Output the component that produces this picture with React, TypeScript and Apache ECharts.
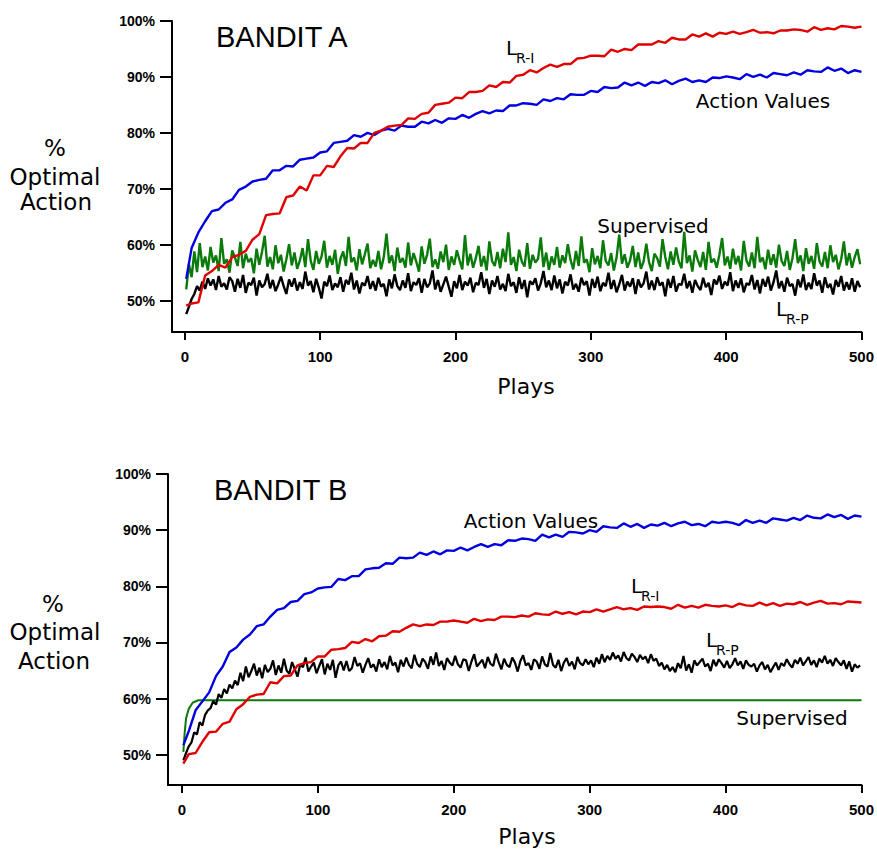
import React, { useEffect, useRef } from "react";
import * as echarts from "echarts";

// sample positions (plays) for the smoother curves
const PLAYS = [
  1, 5, 10, 15, 20, 25, 30, 35, 40, 45,
  50, 55, 60, 65, 70, 75, 80, 85, 90, 95,
  100, 105, 110, 115, 120, 125, 130, 135, 140, 145,
  150, 155, 160, 165, 170, 175, 180, 185, 190, 195,
  200, 205, 210, 215, 220, 225, 230, 235, 240, 245,
  250, 255, 260, 265, 270, 275, 280, 285, 290, 295,
  300, 305, 310, 315, 320, 325, 330, 335, 340, 345,
  350, 355, 360, 365, 370, 375, 380, 385, 390, 395,
  400, 405, 410, 415, 420, 425, 430, 435, 440, 445,
  450, 455, 460, 465, 470, 475, 480, 485, 490, 495,
  500,
];

// sample positions (plays) for the very noisy curves
const PLAYS_DENSE = [
  1, 3, 5, 7, 9, 11, 13, 15, 17, 19,
  21, 23, 25, 27, 29, 31, 33, 35, 37, 39,
  41, 43, 45, 47, 49, 51, 53, 55, 57, 59,
  61, 63, 65, 67, 69, 71, 73, 75, 77, 79,
  81, 83, 85, 87, 89, 91, 93, 95, 97, 99,
  101, 103, 105, 107, 109, 111, 113, 115, 117, 119,
  121, 123, 125, 127, 129, 131, 133, 135, 137, 139,
  141, 143, 145, 147, 149, 151, 153, 155, 157, 159,
  161, 163, 165, 167, 169, 171, 173, 175, 177, 179,
  181, 183, 185, 187, 189, 191, 193, 195, 197, 199,
  201, 203, 205, 207, 209, 211, 213, 215, 217, 219,
  221, 223, 225, 227, 229, 231, 233, 235, 237, 239,
  241, 243, 245, 247, 249, 251, 253, 255, 257, 259,
  261, 263, 265, 267, 269, 271, 273, 275, 277, 279,
  281, 283, 285, 287, 289, 291, 293, 295, 297, 299,
  301, 303, 305, 307, 309, 311, 313, 315, 317, 319,
  321, 323, 325, 327, 329, 331, 333, 335, 337, 339,
  341, 343, 345, 347, 349, 351, 353, 355, 357, 359,
  361, 363, 365, 367, 369, 371, 373, 375, 377, 379,
  381, 383, 385, 387, 389, 391, 393, 395, 397, 399,
  401, 403, 405, 407, 409, 411, 413, 415, 417, 419,
  421, 423, 425, 427, 429, 431, 433, 435, 437, 439,
  441, 443, 445, 447, 449, 451, 453, 455, 457, 459,
  461, 463, 465, 467, 469, 471, 473, 475, 477, 479,
  481, 483, 485, 487, 489, 491, 493, 495, 497, 499,
];

const X_TICKS = [0, 100, 200, 300, 400, 500];
const Y_TICKS = [50, 60, 70, 80, 90, 100];

// ---- Bandit A ----
const A_ACTION_VALUES = [
  53.9, 59.4, 62.2, 64.2, 66.0, 66.3, 67.5, 68.1, 69.8, 70.4,
  71.3, 71.6, 71.8, 73.3, 73.3, 74.1, 74.0, 75.2, 75.4, 75.6,
  76.5, 76.7, 78.2, 78.4, 78.6, 79.6, 79.3, 80.0, 79.6, 80.4,
  80.7, 80.4, 81.3, 81.1, 81.1, 82.0, 81.7, 82.3, 81.8, 82.6,
  82.5, 83.2, 82.7, 83.4, 83.9, 83.5, 84.0, 83.9, 84.9, 84.9,
  85.3, 85.2, 85.0, 86.0, 85.7, 86.2, 86.0, 86.9, 86.8, 86.8,
  87.5, 87.3, 88.2, 88.0, 88.1, 89.0, 88.5, 89.0, 88.4, 89.1,
  88.9, 89.4, 88.7, 89.3, 89.7, 89.1, 89.4, 89.1, 89.9, 89.8,
  90.1, 89.9, 89.6, 90.5, 90.0, 90.4, 89.9, 90.7, 90.5, 90.3,
  90.8, 90.4, 91.2, 91.0, 90.9, 91.7, 91.1, 91.5, 90.7, 91.2,
  90.9,
];
const A_LRI = [
  49.1, 49.5, 49.7, 54.5, 55.3, 56.4, 55.9, 57.8, 58.2, 58.9,
  60.9, 61.9, 65.3, 65.5, 65.6, 68.5, 68.8, 70.4, 69.7, 72.4,
  72.4, 74.1, 73.9, 75.8, 77.3, 77.2, 78.2, 78.2, 80.0, 80.4,
  81.1, 81.3, 81.4, 82.6, 82.5, 83.4, 83.6, 85.0, 85.2, 85.4,
  86.3, 86.2, 87.3, 87.3, 87.5, 88.5, 88.2, 89.1, 89.0, 90.2,
  90.4, 91.2, 90.8, 91.6, 92.2, 91.8, 92.3, 92.3, 93.3, 93.4,
  93.8, 93.8, 93.7, 94.9, 94.5, 95.0, 94.8, 95.8, 95.8, 95.8,
  96.4, 96.1, 97.0, 96.7, 96.7, 97.6, 97.2, 97.8, 97.2, 97.9,
  97.7, 98.1, 97.7, 98.0, 98.4, 97.9, 98.0, 97.8, 98.3, 98.3,
  98.5, 98.4, 98.1, 98.9, 98.4, 98.7, 98.5, 99.1, 99.0, 98.8,
  99.0,
];
const A_SUPERVISED = [
  52.0, 56.5, 54.2, 58.8, 55.1, 60.3, 56.0, 57.9, 55.4, 59.6,
  56.8, 58.1, 55.3, 61.2, 56.6, 57.4, 55.0, 59.0, 57.7, 56.2,
  60.5, 55.8, 58.4, 56.9, 57.6, 54.9, 59.3, 56.4, 58.7, 61.6,
  56.1, 57.8, 55.6, 59.9, 56.7, 58.2, 55.2, 57.4, 60.1, 56.3,
  58.6, 55.7, 57.2, 59.4, 56.0, 61.0, 57.1, 55.5, 58.9, 56.6,
  57.9, 60.7, 55.9, 58.0, 56.4, 59.1, 54.8, 57.5, 58.8, 56.2,
  61.4, 56.9, 57.7, 55.4, 59.2, 56.5, 58.3, 60.2, 55.8, 57.3,
  56.1, 58.9, 55.6, 57.8, 62.0, 56.7, 58.1, 55.3, 59.5, 56.8,
  57.6, 55.9, 60.4, 56.3, 58.5, 57.0, 55.2, 59.7, 56.6, 58.2,
  61.1, 56.0, 57.4, 55.7, 58.8, 56.9, 60.0, 55.5, 57.9, 56.4,
  59.0, 57.2, 55.6, 61.7, 56.3, 58.4, 55.9, 57.6, 59.8, 56.1,
  58.0, 55.4, 60.6, 57.1, 56.2, 58.7, 55.8, 59.3, 56.9, 62.2,
  56.4, 57.8, 55.3, 59.1, 57.0, 56.1, 60.3, 55.7, 58.2, 56.8,
  57.5, 61.3, 56.0, 58.6, 55.5, 57.9, 56.4, 59.6, 55.9, 58.1,
  56.7, 60.1, 57.3, 55.6, 58.9, 56.2, 61.5, 56.8, 57.4, 55.1,
  59.4, 56.5, 58.0, 55.8, 60.8, 57.1, 56.3, 58.5, 55.4, 57.7,
  61.8, 56.6, 58.3, 55.9, 57.2, 59.8, 56.0, 58.6, 55.7, 57.0,
  60.2, 56.9, 55.3, 58.4, 57.6, 56.1, 61.0, 57.8, 55.6, 58.8,
  56.4, 59.5, 57.0, 55.8, 62.3, 56.7, 58.1, 55.2, 59.0, 57.3,
  56.0, 58.7, 55.5, 60.5, 56.8, 57.5, 55.9, 58.2, 61.2, 56.3,
  57.9, 55.7, 59.3, 56.5, 58.0, 55.4, 60.7, 57.2, 56.1, 58.6,
  55.8, 61.4, 56.9, 57.7, 55.6, 59.1, 56.4, 58.3, 55.9, 60.0,
  57.1, 56.2, 58.9, 55.5, 57.6, 61.0, 56.7, 58.1, 55.3, 59.4,
  56.6, 58.0, 55.7, 60.3, 57.0, 56.1, 58.7, 55.8, 59.9, 56.9,
  58.2, 55.6, 57.4, 60.6, 56.3, 58.5, 55.9, 57.8, 59.2, 56.5,
];
const A_LRP = [
  47.6, 48.9, 50.3, 51.2, 52.6, 51.8, 53.4, 52.1, 54.0, 52.7,
  53.8, 51.9, 54.4, 52.5, 53.1, 52.0, 54.2, 53.5, 51.6, 53.9,
  52.3, 54.6, 51.4, 53.2, 52.8, 54.1, 50.9, 53.6, 52.4, 53.0,
  54.8, 52.2, 53.7, 51.7, 52.9, 54.3, 52.6, 51.2, 53.8, 52.5,
  54.0, 51.8, 53.3, 52.1, 55.2, 52.7, 53.5, 51.5, 53.9, 52.3,
  50.4, 53.4, 52.6, 54.5, 51.9, 53.1, 52.4, 54.2, 51.6, 53.7,
  52.9, 55.0, 52.0, 53.6, 51.3, 53.2, 52.7, 54.4, 52.1, 53.5,
  51.8, 54.1, 52.5, 53.0, 50.8, 53.8, 52.2, 54.7, 52.6, 51.9,
  53.6, 52.3, 54.9, 51.7, 53.3, 52.8, 54.0, 51.4, 53.9, 52.4,
  53.1, 55.4, 52.0, 53.7, 51.6, 52.9, 54.3, 52.5, 50.7, 53.5,
  52.2, 54.6, 51.9, 53.4, 52.7, 54.1, 51.5, 53.2, 52.8, 55.1,
  52.3, 53.9, 51.2, 53.6, 52.5, 54.4, 52.0, 53.0, 51.7, 54.8,
  52.6, 53.3, 51.4, 54.2, 52.1, 53.7, 50.6, 53.5, 52.9, 54.0,
  51.8, 53.1, 55.3, 52.4, 53.6, 51.9, 54.5, 52.2, 53.8, 51.3,
  53.4, 52.7, 54.7, 52.0, 53.0, 51.6, 54.1, 52.8, 53.5, 50.9,
  53.9, 52.3, 54.3, 51.7, 53.2, 52.6, 55.0, 52.1, 53.7, 51.5,
  52.9, 54.6, 51.8, 53.4, 52.5, 54.0, 51.2, 53.8, 52.4, 53.1,
  55.2, 52.0, 53.6, 51.9, 54.2, 52.7, 53.3, 50.8, 53.9, 52.3,
  54.4, 51.6, 53.0, 52.8, 54.8, 52.2, 53.5, 51.4, 53.7, 52.6,
  51.9, 54.1, 52.4, 53.2, 51.0, 53.8, 52.9, 54.5, 52.1, 53.4,
  52.7, 55.1, 51.7, 53.6, 52.3, 54.0, 51.5, 53.1, 52.8, 54.6,
  52.0, 53.7, 51.3, 53.9, 52.5, 54.3, 51.8, 53.3, 55.4, 52.2,
  53.5, 51.6, 54.1, 52.6, 53.0, 50.9, 53.8, 52.4, 54.7, 51.9,
  53.2, 52.1, 54.9, 52.7, 53.6, 51.4, 54.2, 52.3, 53.0, 51.1,
  53.7, 52.5, 54.4, 51.8, 53.3, 52.0, 54.0, 51.6, 53.5, 52.4,
];

// ---- Bandit B ----
const B_ACTION_VALUES = [
  51.7, 54.2, 57.9, 59.5, 61.1, 64.0, 65.7, 68.3, 69.1, 70.5,
  71.4, 72.9, 73.2, 74.6, 75.8, 76.1, 77.2, 77.4, 78.6, 78.9,
  79.6, 79.8, 79.9, 81.3, 81.1, 81.8, 81.8, 83.0, 83.2, 83.3,
  84.1, 84.0, 85.1, 85.0, 85.1, 86.0, 85.6, 86.2, 85.7, 86.4,
  86.3, 86.9, 86.4, 87.0, 87.5, 87.0, 87.5, 87.3, 88.2, 88.1,
  88.5, 88.4, 88.1, 89.2, 88.7, 89.2, 88.8, 89.7, 89.6, 89.4,
  90.0, 89.7, 90.7, 90.5, 90.4, 91.2, 90.6, 91.1, 90.4, 91.0,
  90.8, 91.3, 90.7, 91.2, 91.5, 90.9, 91.1, 90.7, 91.5, 91.3,
  91.5, 91.3, 90.9, 91.8, 91.3, 91.7, 91.3, 92.1, 91.9, 91.7,
  92.2, 91.8, 92.6, 92.2, 92.1, 92.8, 92.3, 92.7, 92.0, 92.6,
  92.4,
];
const B_LRI = [
  48.4, 50.1, 50.3, 52.3, 54.0, 54.1, 55.5, 55.9, 58.1, 59.0,
  60.3, 60.7, 60.8, 62.9, 62.7, 64.0, 64.1, 65.9, 66.3, 66.5,
  67.5, 67.5, 68.7, 68.8, 69.0, 70.1, 69.9, 70.6, 70.2, 71.1,
  71.2, 72.0, 71.9, 72.6, 73.2, 72.9, 73.2, 73.1, 73.7, 73.7,
  73.9, 73.7, 73.5, 74.2, 73.8, 74.1, 74.0, 74.6, 74.6, 74.5,
  74.8, 74.6, 75.2, 75.0, 74.9, 75.5, 75.1, 75.4, 75.0, 75.5,
  75.4, 75.9, 75.5, 75.9, 76.3, 75.9, 76.1, 75.8, 76.4, 76.3,
  76.4, 76.3, 76.0, 76.7, 76.2, 76.5, 76.2, 76.7, 76.5, 76.4,
  76.6, 76.3, 76.9, 76.6, 76.5, 77.1, 76.6, 77.0, 76.5, 76.9,
  76.8, 77.2, 76.7, 77.1, 77.4, 76.9, 77.0, 76.8, 77.3, 77.2,
  77.1,
];
const B_LRP = [
  49.0, 50.3, 51.5, 52.2, 54.0, 53.6, 55.8, 55.2, 57.1, 57.9,
  58.3, 59.6, 58.9, 60.8, 60.1, 61.7, 60.9, 62.5, 61.8, 63.2,
  62.4, 64.6, 63.1, 65.7, 63.8, 64.9, 66.2, 64.1, 65.5, 63.6,
  66.0, 64.7, 65.3, 66.8, 64.2, 65.9, 64.6, 67.1, 65.0, 64.4,
  66.5, 65.2, 63.9, 66.1, 65.6, 67.3, 64.8, 65.7, 66.4, 64.5,
  65.8, 67.0, 64.3, 66.2, 65.1, 66.9, 63.7, 65.9, 66.6, 65.0,
  66.7, 64.9, 65.4, 67.4, 65.8, 66.3, 64.6, 66.0, 67.2, 65.5,
  66.1, 64.8, 67.0, 65.6, 66.5, 65.2, 67.6, 65.9, 66.4, 64.7,
  66.9, 65.7, 67.3, 66.0, 65.4, 67.8, 66.2, 65.6, 67.1, 66.5,
  65.3, 67.5, 66.0, 68.2, 65.8, 66.7, 65.1, 67.2, 66.4, 65.9,
  67.6, 66.1, 65.5, 67.0, 66.8, 64.9, 66.6, 67.9, 65.7, 66.3,
  66.9, 65.4, 67.4, 66.2, 65.8, 68.0, 66.5, 65.2, 67.1, 66.0,
  65.6, 67.3, 66.4, 64.8, 66.7, 67.7, 65.9, 66.3, 65.1, 67.0,
  66.6, 65.3, 67.5, 66.1, 65.7, 68.1, 66.0, 65.5, 66.9, 64.9,
  66.4, 67.2, 65.8, 66.6, 65.2, 67.4, 66.3, 65.9, 67.0, 66.1,
  66.8, 65.6, 67.3, 66.2, 67.9, 66.5, 67.6, 66.9, 68.2, 67.1,
  67.7, 66.6, 68.3, 67.2, 66.8, 68.0, 67.4, 66.5, 67.8, 67.0,
  67.5, 66.3, 67.9, 66.7, 67.1, 65.8, 66.4, 65.2, 66.0, 64.9,
  65.6, 64.7, 66.3, 65.4, 67.6, 65.0, 66.1, 64.6, 66.8, 65.9,
  66.5, 67.1, 65.7, 66.2, 64.9, 66.9, 65.8, 67.0, 66.3, 65.5,
  66.7, 65.4, 66.1, 67.2, 65.9, 66.6, 65.3, 66.8, 66.0, 65.7,
  66.2, 64.8, 65.9, 66.5, 65.2, 66.0, 64.7, 65.6, 66.4, 65.1,
  66.3, 65.8, 67.0, 66.1, 65.5, 66.9, 66.2, 67.3, 65.9, 66.6,
  67.4, 66.0, 66.8, 65.6, 67.1, 66.4, 67.6, 66.2, 66.9, 65.8,
  67.2, 66.5, 65.9, 66.8, 65.3, 66.6, 64.8, 66.1, 65.5, 65.9,
];
const B_SUP_PLAYS = [1, 2, 3, 5, 8, 12, 500];
const B_SUPERVISED = [50.5, 54.0, 56.5, 58.2, 59.3, 59.7, 59.7];

const RED = "#e00000";
const BLUE = "#0000e0";
const GREEN = "#0a7a0a";
const BLACK = "#000000";

const TICK_FONT = '"Liberation Sans Narrow", "Liberation Sans", Arial, sans-serif';
const LABEL_FONT = '"DejaVu Sans", sans-serif';

const zip = (xs: number[], ys: number[]) => ys.map((y, i) => [xs[i], y]);

function makeAxes(i: number, xmin: number, ymin: number) {
  const x = {
    type: "value",
    gridIndex: i,
    min: xmin,
    max: 500,
    axisLine: { show: true, onZero: false, lineStyle: { color: "#000", width: 2 } },
    axisTick: { show: true, length: 8, inside: false, customValues: X_TICKS, lineStyle: { color: "#000", width: 2 } },
    axisLabel: {
      customValues: X_TICKS,
      margin: 17,
      fontSize: 15,
      fontWeight: "bold",
      color: "#000",
      fontFamily: TICK_FONT,
    },
    splitLine: { show: false },
  };
  const y = {
    type: "value",
    gridIndex: i,
    min: ymin,
    max: 100,
    position: "left",
    axisLine: { show: true, onZero: false, lineStyle: { color: "#000", width: 2 } },
    axisTick: { show: true, length: 12, inside: false, customValues: Y_TICKS, lineStyle: { color: "#000", width: 2 } },
    axisLabel: {
      customValues: Y_TICKS,
      formatter: "{value}%",
      margin: 17,
      fontSize: 14,
      fontWeight: "bold",
      color: "#000",
      fontFamily: TICK_FONT,
    },
    splitLine: { show: false },
  };
  return { x, y };
}

function line(name: string, i: number, xs: number[], ys: number[], color: string, z: number, width = 2.4) {
  return {
    type: "line",
    name,
    xAxisIndex: i,
    yAxisIndex: i,
    data: zip(xs, ys),
    showSymbol: false,
    symbol: "none",
    z,
    lineStyle: { color, width },
    emphasis: { disabled: true },
  };
}

function txt(text: string, x: number, y: number, size: number, align = "center", family = LABEL_FONT) {
  return {
    type: "text",
    x,
    y,
    silent: true,
    style: {
      text,
      fill: "#000",
      fontSize: size,
      fontFamily: family,
      align,
      verticalAlign: "middle",
    },
  };
}

function subLabel(main: string, sub: string, x: number, y: number) {
  return [txt(main, x, y, 20, "left"), txt(sub, x + 10, y + 10, 14, "left")];
}

export default function App() {
  const ref = useRef<HTMLDivElement>(null);
  useEffect(() => {
    document.body.style.margin = "0";
    const chart = echarts.init(ref.current!, null, { renderer: "svg" });
    const a = makeAxes(0, -9.5, 44.4);
    const b = makeAxes(1, -10.3, 44.6);
    chart.setOption({
      animation: false,
      backgroundColor: "#ffffff",
      grid: [
        { left: 172, top: 21, width: 694, height: 311 },
        { left: 168, top: 474, width: 695, height: 311 },
      ],
      xAxis: [a.x, b.x],
      yAxis: [a.y, b.y],
      series: [
        line("Supervised", 0, PLAYS_DENSE, A_SUPERVISED, GREEN, 1, 2.4),
        line("L R-P", 0, PLAYS_DENSE, A_LRP, BLACK, 2, 2.4),
        line("Action Values", 0, PLAYS, A_ACTION_VALUES, BLUE, 3),
        line("L R-I", 0, PLAYS, A_LRI, RED, 4),
        line("Supervised", 1, B_SUP_PLAYS, B_SUPERVISED, GREEN, 1, 2),
        line("L R-P", 1, PLAYS_DENSE, B_LRP, BLACK, 2, 2.2),
        line("Action Values", 1, PLAYS, B_ACTION_VALUES, BLUE, 3),
        line("L R-I", 1, PLAYS, B_LRI, RED, 4),
      ],
      graphic: [
        txt("BANDIT A", 216, 37, 29, "left", '"Liberation Sans", Arial, sans-serif'),
        txt("BANDIT B", 214, 490, 29, "left", '"Liberation Sans", Arial, sans-serif'),
        txt("%", 55, 148, 23),
        txt("Optimal", 55, 177, 23),
        txt("Action", 56, 202, 23),
        txt("%", 53, 604, 23),
        txt("Optimal", 55, 632, 23),
        txt("Action", 54, 661, 23),
        txt("Plays", 526, 386, 22),
        txt("Plays", 527, 836, 22),
        ...subLabel("L", "R-I", 506, 48),
        txt("Action Values", 763, 101, 20),
        txt("Supervised", 653, 226, 20),
        ...subLabel("L", "R-P", 776, 309),
        txt("Action Values", 531, 521, 20),
        ...subLabel("L", "R-I", 631, 586),
        ...subLabel("L", "R-P", 706, 640),
        txt("Supervised", 792, 718, 20),
      ],
    });
    return () => chart.dispose();
  }, []);
  return <div ref={ref} style={{ width: 877, height: 852 }} />;
}
